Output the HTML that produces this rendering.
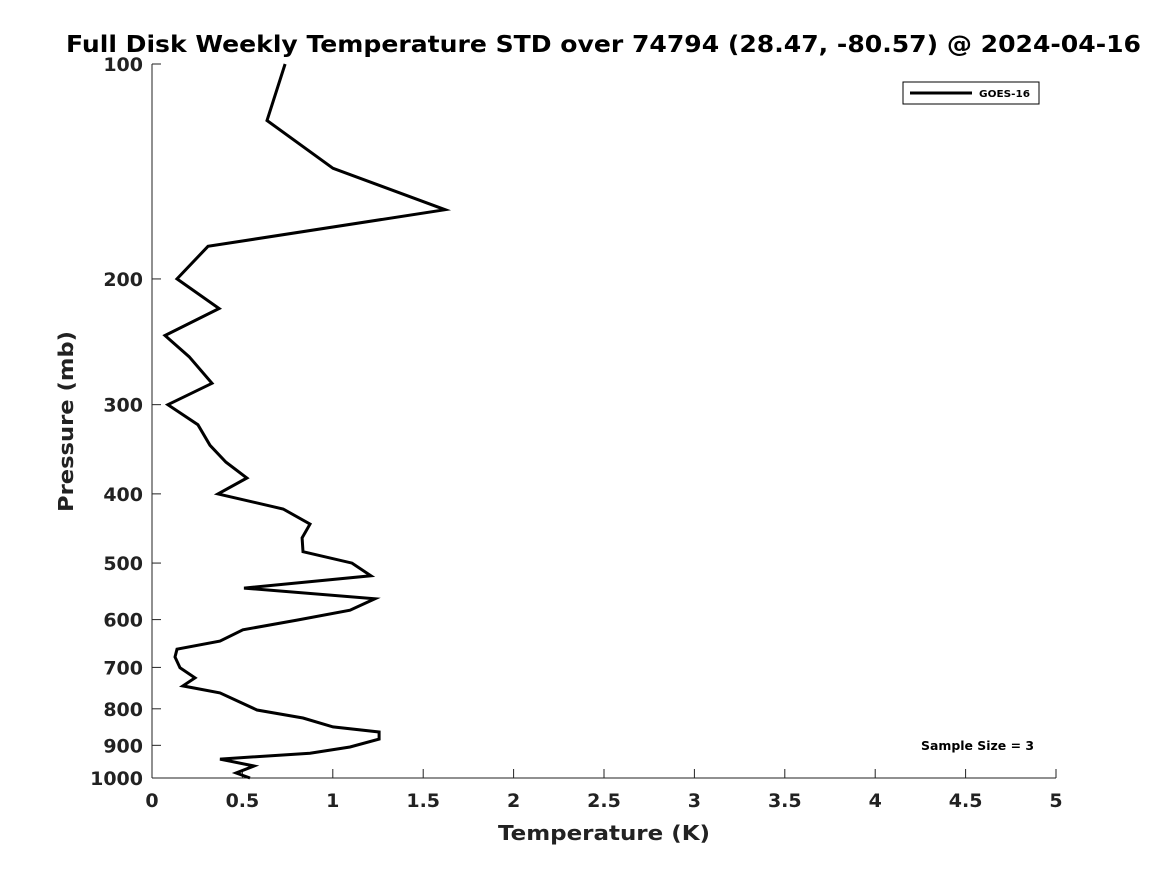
<!DOCTYPE html>
<html><head><meta charset="utf-8"><style>
body{margin:0;background:#fff;}
svg{display:block;font-family:"DejaVu Sans","Liberation Sans",sans-serif;}
</style></head><body>
<svg id="chart" width="1167" height="875">
<text x="66" y="52" font-size="23" font-weight="bold" textLength="1075" lengthAdjust="spacingAndGlyphs">Full Disk Weekly Temperature STD over 74794 (28.47, -80.57) @ 2024-04-16</text>
<g id="axes"></g>
<g id="series"></g>
<text x="498" y="840" font-size="20" font-weight="bold" fill="#222" textLength="212" lengthAdjust="spacingAndGlyphs">Temperature (K)</text>
<text transform="translate(73,512) rotate(-90)" font-size="20" font-weight="bold" fill="#222" textLength="181" lengthAdjust="spacingAndGlyphs">Pressure (mb)</text>
<g>
<rect x="903" y="82" width="136" height="22" fill="#fff" stroke="#000" stroke-width="1"/>
<line x1="910" y1="93" x2="972" y2="93" stroke="#000" stroke-width="3"/>
<text x="979" y="97" font-size="10" font-weight="bold" textLength="51" lengthAdjust="spacingAndGlyphs">GOES-16</text>
</g>
<text x="921" y="750" font-size="12" font-weight="bold" textLength="113" lengthAdjust="spacingAndGlyphs">Sample Size = 3</text>
</svg>
<script>
const temps=[0.736,0.636,1.001,1.621,0.310,0.138,0.371,0.072,0.205,0.332,0.088,0.254,0.321,0.409,0.525,0.365,0.725,0.874,0.830,0.835,1.106,1.211,0.509,1.233,1.095,0.802,0.503,0.376,0.138,0.127,0.155,0.238,0.171,0.376,0.581,0.835,1.001,1.256,1.256,1.095,0.874,0.376,0.564,0.465,0.542];
const pressures=[100,120,140,160,180,200,220,240,257,280,300,320,342,361,380,400,420,441,461,482,500,521,542,561,582,601,620,643,660,677,701,724,743,760,803,824,848,862,882,905,923,941,962,984,1000];
const xTicks=[0,0.5,1,1.5,2,2.5,3,3.5,4,4.5,5];
const xTickLabels=["0","0.5","1","1.5","2","2.5","3","3.5","4","4.5","5"];
const yTicks=[100,200,300,400,500,600,700,800,900,1000];
const yTickLabels=["100","200","300","400","500","600","700","800","900","1000"];
const X0=152,X1=1056,Y0=64,Y1=778;
function xs(v){return X0+(v-0)/(5-0)*(X1-X0);}
function ys(p){return Y0+Math.log10(p/100)/Math.log10(1000/100)*(Y1-Y0);}
const NS="http://www.w3.org/2000/svg";
const ax=document.getElementById('axes');
function mk(t,a,p){const e=document.createElementNS(NS,t);for(const k in a)e.setAttribute(k,a[k]);p.appendChild(e);return e;}
const la=mk('line',{x1:X0,y1:Y0,x2:X0,y2:Y1,stroke:'#222','stroke-width':1},ax);


const ba=mk('line',{x1:X0,y1:Y1,x2:X1,y2:Y1,stroke:'#222','stroke-width':1},ax);


xTicks.forEach((v,i)=>{
 const x=xs(v);
 mk('line',{x1:x,y1:Y1,x2:x,y2:Y1-9,stroke:'#222'},ax);
 const t=mk('text',{x:x,y:Y1+29,'text-anchor':'middle','font-size':19,'font-weight':'bold',fill:'#222'},ax);
 t.textContent=xTickLabels[i];
 
 
});
yTicks.forEach((p,i)=>{
 const y=ys(p);
 mk('line',{x1:X0,y1:y,x2:X0+9,y2:y,stroke:'#222'},ax);
 const t=mk('text',{x:X0-9,y:y+7,'text-anchor':'end','font-size':19,'font-weight':'bold',fill:'#222'},ax);
 t.textContent=yTickLabels[i];
 
 
});
const pts=temps.map((t,i)=>xs(t).toFixed(1)+','+ys(pressures[i]).toFixed(1)).join(' ');
const pl=mk('polyline',{points:pts,fill:'none',stroke:'#000','stroke-width':3,'stroke-linejoin':'miter'},document.getElementById('series'));


</script>
</body></html>
